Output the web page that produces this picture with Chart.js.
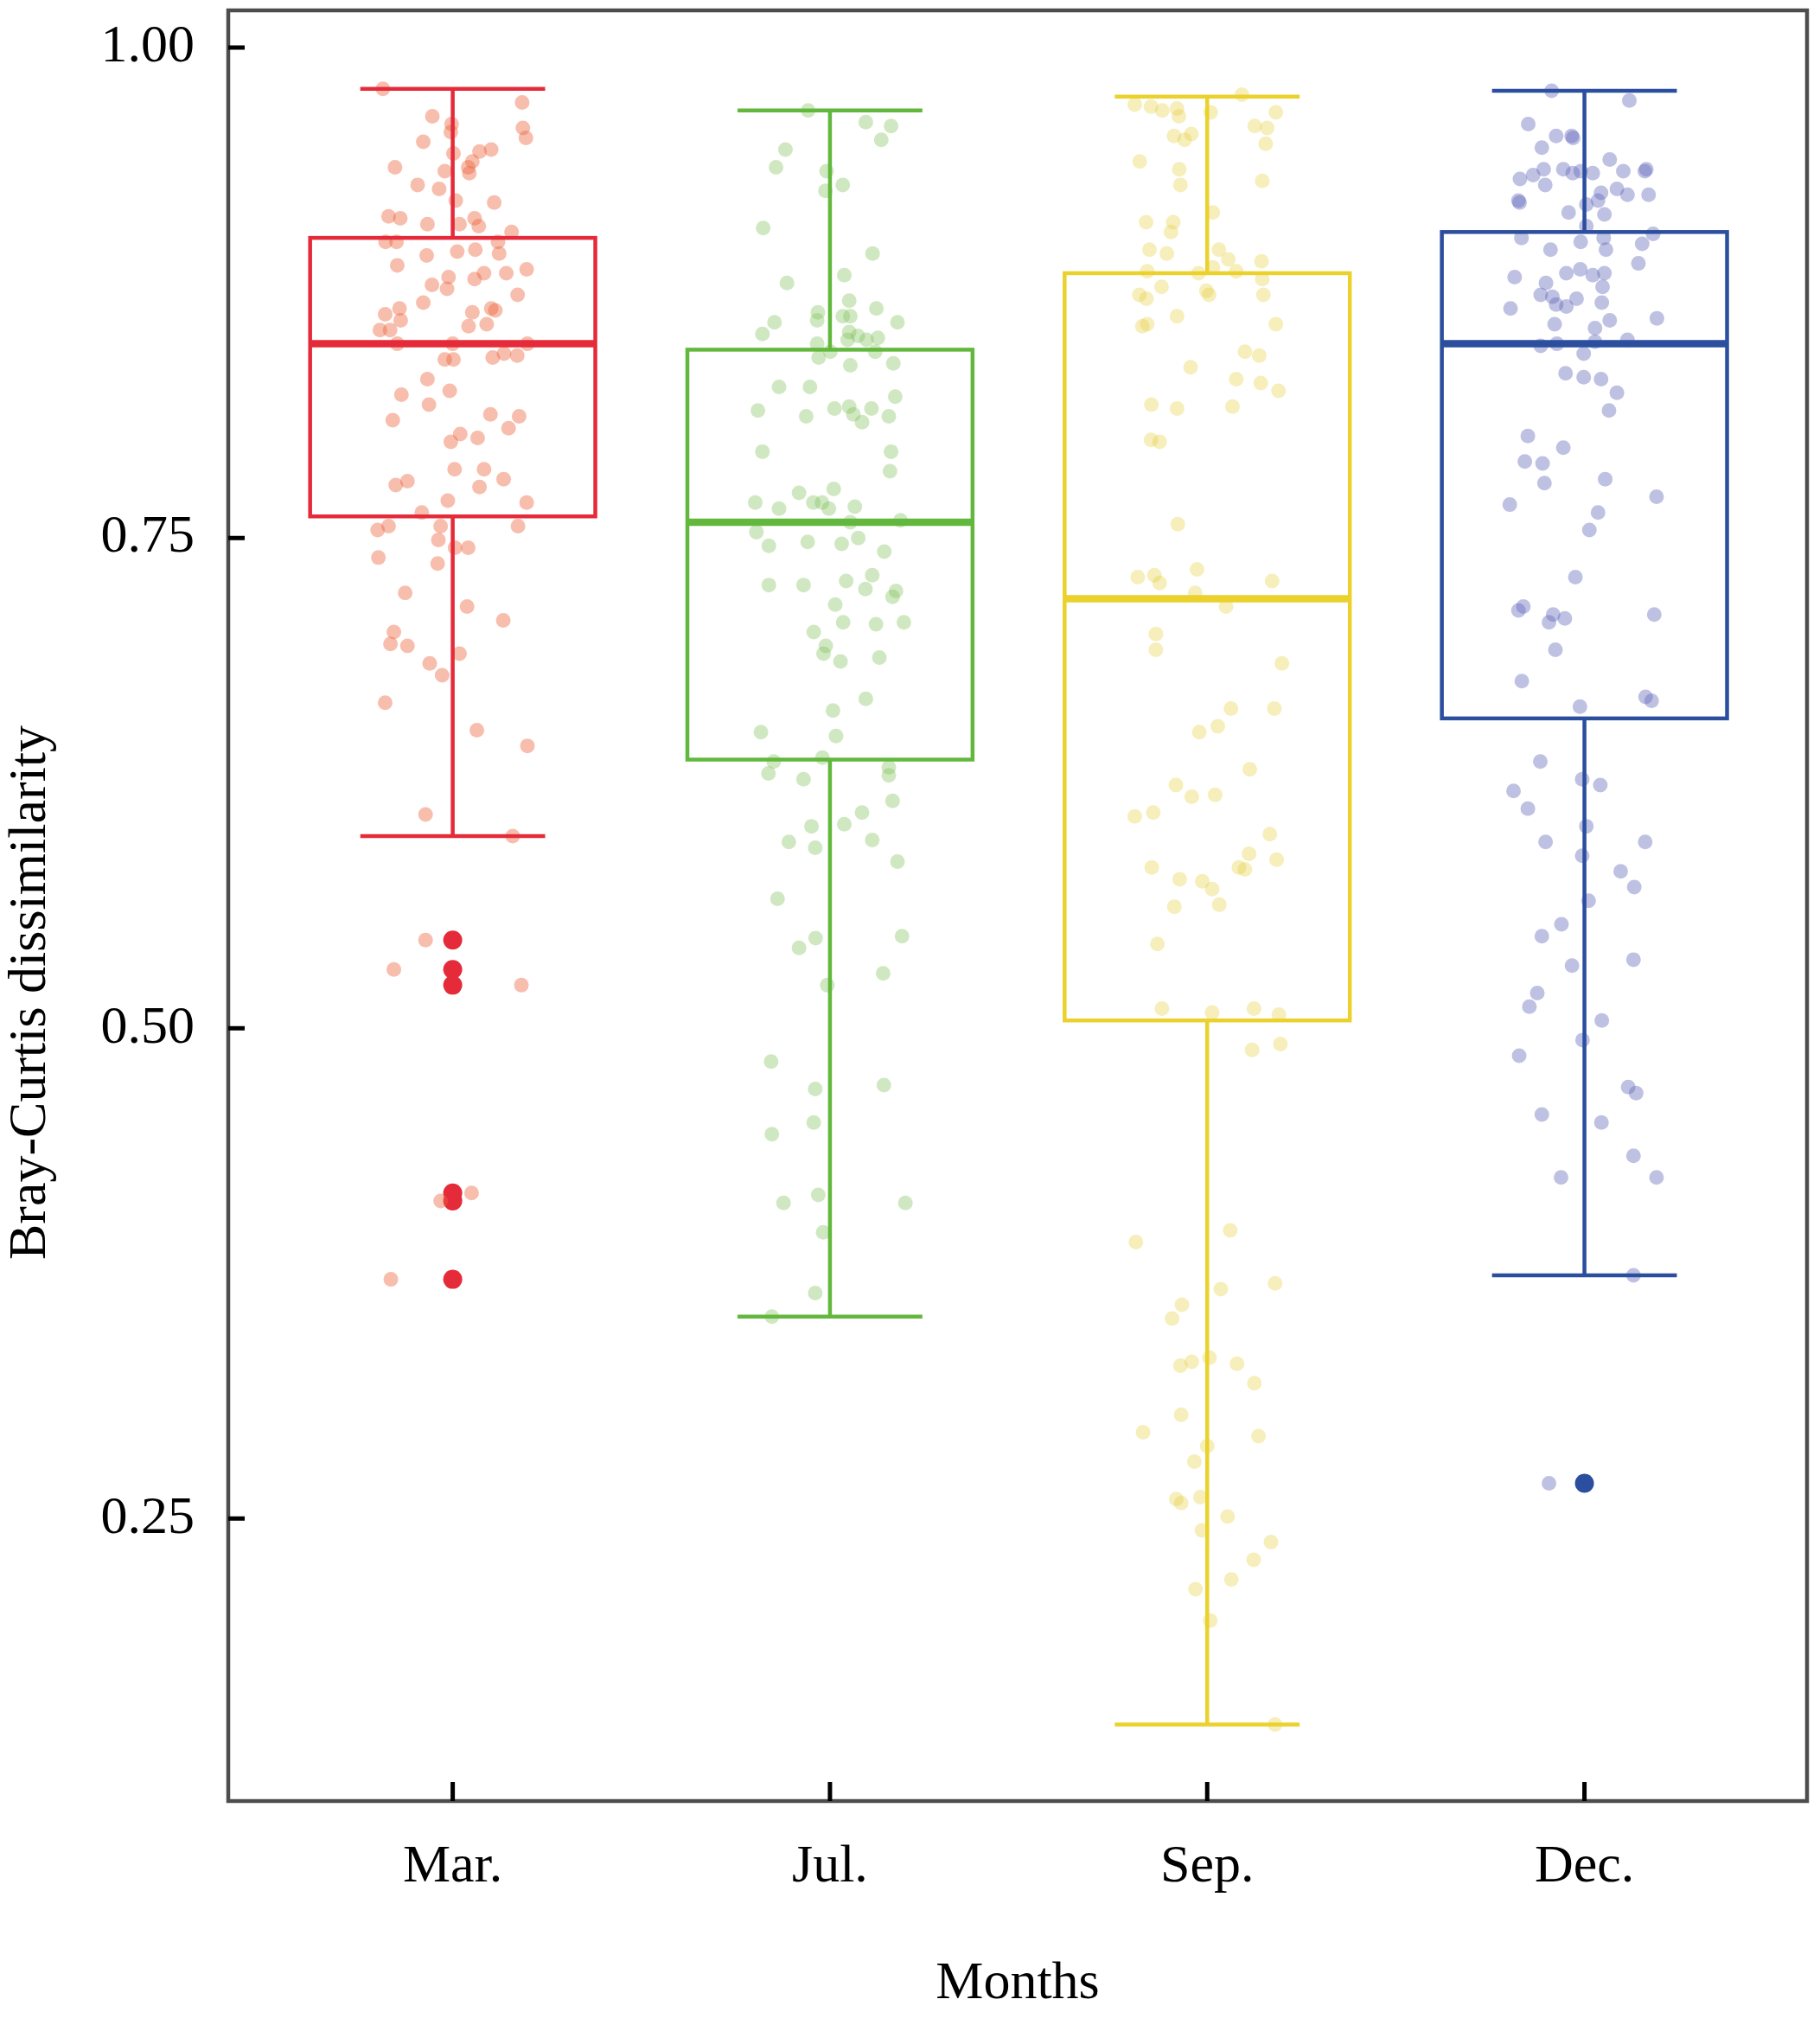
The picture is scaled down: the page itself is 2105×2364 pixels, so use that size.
<!DOCTYPE html>
<html>
<head>
<meta charset="utf-8">
<script src="https://cdn.jsdelivr.net/npm/chart.js@4.4.1/dist/chart.umd.min.js"></script>
<style>
    html, body { margin: 0; padding: 0; background: #fff; }
</style>
</head>
<body>
<canvas id="boxChart" width="2105" height="2364"></canvas>
<script>
// Categories and tick labels
const months = ['Mar.', 'Jul.', 'Sep.', 'Dec.'];
const yTicks = [0.25, 0.50, 0.75, 1.00];

// Box statistics per month
const whiskerLow = [0.598, 0.353, 0.145, 0.374];
const q1 = [0.761, 0.637, 0.504, 0.658];
const median = [0.849, 0.758, 0.719, 0.849];
const q3 = [0.903, 0.846, 0.885, 0.906];
const whiskerHigh = [0.979, 0.968, 0.975, 0.978];

// Outliers (solid dots)
const marOutliers = [0.545, 0.530, 0.522, 0.416, 0.412, 0.372];
const decOutliers = [0.268];

// Jittered samples: [x jitter, dissimilarity]
const marPoints = [
    [-0.185,0.979],[0.184,0.972],[-0.054,0.965],[-0.003,0.961],[-0.005,0.957],[0.186,0.959],[0.194,0.954],[-0.078,0.952],
    [0.002,0.946],[0.071,0.947],[0.102,0.948],[0.052,0.942],[-0.153,0.939],[-0.021,0.937],[0.044,0.936],[0.041,0.939],
    [-0.093,0.930],[-0.036,0.928],[0.008,0.922],[0.110,0.921],[-0.170,0.914],[-0.139,0.913],[-0.067,0.910],[0.018,0.910],
    [0.058,0.913],[0.069,0.909],[0.156,0.906],[-0.178,0.901],[-0.149,0.901],[0.120,0.901],[0.123,0.895],[-0.069,0.894],
    [0.012,0.896],[0.060,0.897],[-0.147,0.889],[0.196,0.887],[-0.011,0.883],[0.058,0.882],[0.083,0.885],[0.142,0.885],
    [-0.055,0.879],[-0.015,0.877],[-0.078,0.870],[0.172,0.874],[-0.179,0.864],[-0.141,0.867],[-0.138,0.861],[0.052,0.865],
    [0.102,0.867],[0.113,0.866],[0.090,0.859],[0.042,0.858],[-0.193,0.856],[-0.166,0.856],[-0.147,0.849],[0.000,0.849],
    [0.198,0.849],[-0.021,0.841],[0.002,0.841],[0.106,0.842],[0.136,0.844],[0.171,0.843],[-0.067,0.831],[-0.008,0.825],
    [-0.136,0.823],[-0.063,0.818],[-0.159,0.810],[0.100,0.813],[0.176,0.812],[0.148,0.806],[-0.005,0.799],[0.020,0.803],
    [0.066,0.801],[0.005,0.785],[0.083,0.785],[-0.151,0.777],[-0.120,0.779],[0.071,0.776],[0.135,0.780],[-0.013,0.769],
    [0.196,0.768],[-0.082,0.763],[-0.199,0.754],[-0.170,0.756],[-0.032,0.756],[0.173,0.756],[-0.038,0.749],[-0.197,0.740],
    [0.006,0.745],[0.041,0.745],[-0.040,0.737],[-0.126,0.722],[0.038,0.715],[0.134,0.708],[-0.156,0.702],[-0.165,0.696],
    [-0.120,0.695],[0.018,0.691],[-0.061,0.686],[-0.028,0.680],[-0.179,0.666],[0.064,0.652],[0.198,0.644],[-0.072,0.609],
    [0.159,0.598],[-0.072,0.545],[-0.156,0.530],[0.182,0.522],[-0.032,0.412],[0.050,0.416],[-0.164,0.372]
];
const julPoints = [
    [-0.058,0.968],[0.095,0.962],[0.162,0.960],[0.136,0.953],[-0.118,0.948],[-0.143,0.939],[-0.009,0.937],[-0.012,0.927],
    [0.034,0.930],[-0.177,0.908],[0.113,0.895],[-0.114,0.880],[0.038,0.884],[0.051,0.871],[0.123,0.867],[-0.032,0.865],
    [-0.034,0.861],[0.034,0.863],[0.054,0.863],[0.179,0.860],[-0.147,0.860],[-0.179,0.854],[0.051,0.855],[0.074,0.853],
    [0.097,0.851],[0.127,0.852],[0.047,0.851],[-0.034,0.849],[0.001,0.845],[0.120,0.845],[-0.030,0.842],[0.054,0.838],
    [0.168,0.839],[-0.135,0.827],[-0.053,0.827],[0.173,0.822],[-0.191,0.815],[-0.063,0.812],[0.012,0.816],[0.051,0.817],
    [0.062,0.813],[0.085,0.809],[0.110,0.816],[0.156,0.812],[-0.179,0.794],[0.162,0.794],[0.159,0.784],[-0.198,0.768],
    [-0.135,0.765],[-0.082,0.773],[-0.044,0.768],[-0.021,0.768],[-0.003,0.765],[0.010,0.775],[0.066,0.766],[0.187,0.759],
    [-0.195,0.753],[0.054,0.758],[-0.162,0.746],[-0.059,0.748],[0.031,0.747],[0.075,0.750],[0.144,0.743],[-0.162,0.726],
    [-0.070,0.726],[0.043,0.728],[0.094,0.724],[0.112,0.731],[0.166,0.720],[0.175,0.723],[0.014,0.716],[0.035,0.707],
    [0.122,0.706],[0.196,0.707],[-0.043,0.702],[-0.011,0.695],[-0.017,0.691],[0.028,0.687],[0.131,0.689],[0.095,0.668],
    [0.008,0.662],[-0.183,0.651],[0.016,0.649],[-0.149,0.636],[-0.163,0.630],[-0.020,0.638],[0.156,0.633],[0.156,0.629],
    [-0.070,0.627],[0.166,0.616],[-0.049,0.603],[0.038,0.604],[0.085,0.610],[-0.109,0.595],[-0.039,0.592],[0.112,0.596],
    [0.179,0.585],[-0.139,0.566],[-0.082,0.541],[-0.038,0.546],[0.191,0.547],[-0.007,0.522],[0.141,0.528],[-0.156,0.483],
    [-0.039,0.469],[0.143,0.471],[-0.043,0.452],[-0.154,0.446],[-0.123,0.411],[-0.031,0.415],[0.200,0.411],[-0.018,0.396],
    [-0.039,0.365],[-0.154,0.353]
];
const sepPoints = [
    [-0.192,0.971],[-0.149,0.970],[-0.119,0.968],[-0.080,0.969],[-0.075,0.965],[0.009,0.967],[0.092,0.976],[0.182,0.967],
    [0.126,0.960],[0.159,0.959],[0.155,0.951],[-0.088,0.955],[-0.060,0.953],[-0.042,0.956],[-0.179,0.942],[-0.074,0.938],
    [-0.071,0.930],[0.146,0.932],[0.015,0.916],[-0.162,0.911],[-0.090,0.911],[-0.096,0.906],[-0.153,0.897],[-0.107,0.895],
    [0.031,0.897],[0.056,0.892],[0.144,0.891],[-0.159,0.886],[-0.023,0.885],[0.015,0.888],[0.077,0.886],[0.146,0.882],
    [-0.121,0.878],[-0.180,0.874],[-0.161,0.872],[-0.002,0.876],[0.005,0.874],[0.149,0.874],[-0.080,0.863],[-0.172,0.858],
    [-0.159,0.859],[0.182,0.859],[0.100,0.845],[0.138,0.843],[-0.044,0.837],[0.077,0.831],[0.142,0.829],[0.189,0.825],
    [-0.148,0.818],[-0.080,0.816],[0.067,0.817],[-0.149,0.800],[-0.126,0.799],[-0.078,0.757],[-0.184,0.730],[-0.140,0.731],
    [-0.126,0.727],[-0.027,0.734],[0.172,0.728],[-0.032,0.722],[0.050,0.715],[-0.136,0.701],[-0.136,0.693],[0.198,0.686],
    [0.063,0.663],[0.178,0.663],[-0.021,0.651],[0.028,0.654],[0.113,0.632],[-0.083,0.624],[-0.041,0.618],[0.021,0.619],
    [-0.192,0.608],[-0.143,0.610],[0.166,0.599],[0.111,0.589],[0.184,0.586],[0.084,0.582],[0.100,0.581],[-0.147,0.582],
    [-0.073,0.576],[-0.013,0.575],[0.013,0.571],[-0.087,0.562],[0.032,0.563],[-0.132,0.543],[-0.120,0.510],[0.013,0.508],
    [0.124,0.510],[0.190,0.507],[0.119,0.489],[0.194,0.492],[-0.189,0.391],[0.061,0.397],[0.180,0.370],[0.036,0.367],
    [-0.067,0.359],[-0.093,0.352],[-0.071,0.328],[-0.041,0.330],[0.006,0.332],[0.079,0.329],[0.125,0.319],[-0.069,0.303],
    [-0.170,0.294],[0.136,0.292],[0.000,0.287],[-0.034,0.279],[-0.082,0.260],[-0.069,0.258],[-0.018,0.261],[0.054,0.251],
    [-0.014,0.244],[0.169,0.238],[0.123,0.229],[0.064,0.219],[-0.031,0.214],[0.008,0.198],[0.180,0.145]
];
const decPoints = [
    [-0.087,0.978],[0.119,0.973],[-0.149,0.961],[-0.075,0.955],[-0.034,0.955],[-0.030,0.954],[-0.113,0.949],[0.067,0.943],
    [-0.171,0.933],[-0.136,0.935],[-0.108,0.938],[-0.104,0.930],[-0.056,0.938],[-0.031,0.936],[-0.010,0.937],[0.022,0.936],
    [0.103,0.937],[0.164,0.938],[0.160,0.937],[-0.175,0.922],[-0.172,0.921],[0.044,0.926],[0.086,0.928],[0.114,0.925],
    [0.170,0.925],[0.005,0.920],[0.036,0.922],[-0.042,0.916],[0.053,0.915],[0.005,0.909],[-0.167,0.903],[0.051,0.903],
    [0.182,0.905],[-0.090,0.897],[-0.010,0.901],[0.057,0.897],[0.153,0.900],[0.143,0.890],[-0.185,0.883],[-0.048,0.885],
    [-0.011,0.887],[0.022,0.884],[0.053,0.885],[-0.102,0.880],[0.048,0.878],[-0.116,0.874],[-0.085,0.873],[-0.075,0.869],
    [-0.048,0.868],[-0.021,0.872],[0.046,0.870],[-0.196,0.867],[-0.079,0.859],[0.028,0.857],[0.067,0.861],[0.192,0.862],
    [-0.116,0.848],[-0.073,0.849],[0.028,0.850],[0.114,0.851],[-0.002,0.844],[-0.050,0.834],[-0.002,0.832],[0.044,0.831],
    [0.086,0.824],[0.065,0.815],[-0.150,0.802],[-0.056,0.796],[-0.158,0.789],[-0.111,0.788],[-0.106,0.778],[0.055,0.780],
    [-0.198,0.767],[0.191,0.771],[0.036,0.763],[0.013,0.754],[-0.024,0.730],[-0.175,0.713],[-0.162,0.715],[-0.094,0.707],
    [-0.083,0.711],[-0.052,0.709],[0.185,0.711],[-0.077,0.693],[-0.166,0.677],[-0.012,0.664],[0.162,0.669],[0.178,0.667],
    [-0.117,0.636],[-0.188,0.621],[-0.150,0.612],[-0.006,0.627],[0.042,0.624],[0.005,0.603],[-0.103,0.595],[0.161,0.595],
    [-0.006,0.588],[0.096,0.580],[0.132,0.572],[0.011,0.565],[-0.061,0.553],[-0.113,0.547],[-0.033,0.532],[0.130,0.535],
    [-0.125,0.518],[-0.146,0.511],[0.046,0.504],[-0.005,0.494],[-0.173,0.486],[0.116,0.470],[0.137,0.467],[-0.113,0.456],
    [0.045,0.452],[0.130,0.435],[-0.062,0.424],[0.191,0.424],[0.130,0.374],[-0.094,0.268]
];

const boxColors = ['#e52b3a', '#62b83c', '#ebd12b', '#2b4e9e'];
const dotColors = ['rgba(235,100,60,0.42)', 'rgba(120,190,80,0.35)', 'rgba(230,205,60,0.35)', 'rgba(95,100,185,0.4)'];
const FONT = '"Liberation Serif", "Times New Roman", serif';

const jitterSets = [marPoints, julPoints, sepPoints, decPoints];

const datasets = jitterSets.map((pts, i) => ({
    label: months[i],
    data: pts.map(p => ({ x: i + p[0], y: p[1] })),
    pointRadius: 8.5,
    pointBackgroundColor: dotColors[i],
    pointBorderWidth: 0,
    showLine: false
}));
datasets.push({
    label: 'Mar. outliers',
    data: marOutliers.map(v => ({ x: 0, y: v })),
    pointRadius: 11,
    pointBackgroundColor: boxColors[0],
    pointBorderWidth: 0
});
datasets.push({
    label: 'Dec. outliers',
    data: decOutliers.map(v => ({ x: 3, y: v })),
    pointRadius: 11,
    pointBackgroundColor: boxColors[3],
    pointBorderWidth: 0
});

// Draws boxes, whiskers, frame, inner ticks and the y title
const boxPlotPlugin = {
    id: 'boxPlot',
    afterDatasetsDraw(chart) {
        const { ctx, scales: { x, y } } = chart;
        const boxHalf = 0.378;
        const capHalf = 0.245;
        ctx.save();
        months.forEach((m, i) => {
            const left = x.getPixelForValue(i - boxHalf);
            const right = x.getPixelForValue(i + boxHalf);
            const cx = x.getPixelForValue(i);
            const capL = x.getPixelForValue(i - capHalf);
            const capR = x.getPixelForValue(i + capHalf);
            const yq1 = y.getPixelForValue(q1[i]);
            const yq3 = y.getPixelForValue(q3[i]);
            const ymed = y.getPixelForValue(median[i]);
            const ylo = y.getPixelForValue(whiskerLow[i]);
            const yhi = y.getPixelForValue(whiskerHigh[i]);
            ctx.strokeStyle = boxColors[i];
            ctx.lineCap = 'butt';
            ctx.lineWidth = 4.5;
            ctx.beginPath();
            ctx.moveTo(cx, yq3); ctx.lineTo(cx, yhi);
            ctx.moveTo(capL, yhi); ctx.lineTo(capR, yhi);
            ctx.moveTo(cx, yq1); ctx.lineTo(cx, ylo);
            ctx.moveTo(capL, ylo); ctx.lineTo(capR, ylo);
            ctx.stroke();
            ctx.strokeRect(left, yq3, right - left, yq1 - yq3);
            ctx.lineWidth = 8.5;
            ctx.beginPath();
            ctx.moveTo(left, ymed); ctx.lineTo(right, ymed);
            ctx.stroke();
        });
        ctx.restore();
    },
    afterDraw(chart) {
        const { ctx, chartArea: a, scales: { x, y } } = chart;
        ctx.save();
        // frame
        ctx.strokeStyle = '#4d4d4d';
        ctx.lineWidth = 4.5;
        ctx.strokeRect(a.left, a.top, a.right - a.left, a.bottom - a.top);
        // inner ticks
        ctx.strokeStyle = '#000';
        ctx.lineWidth = 5;
        ctx.beginPath();
        yTicks.forEach(v => {
            const py = y.getPixelForValue(v);
            ctx.moveTo(a.left, py); ctx.lineTo(a.left + 19, py);
        });
        months.forEach((m, i) => {
            const px = x.getPixelForValue(i);
            ctx.moveTo(px, a.bottom); ctx.lineTo(px, a.bottom - 22);
        });
        ctx.stroke();
        // y axis title
        ctx.fillStyle = '#000';
        ctx.font = '62px ' + FONT;
        ctx.textAlign = 'center';
        ctx.textBaseline = 'middle';
        ctx.translate(36, 1148);
        ctx.rotate(-Math.PI / 2);
        ctx.fillText('Bray-Curtis dissimilarity', 0, 0);
        ctx.restore();
    }
};

new Chart(document.getElementById('boxChart'), {
    type: 'scatter',
    data: { datasets },
    options: {
        responsive: false,
        devicePixelRatio: 1,
        animation: false,
        layout: { padding: { top: 12, right: 15, left: 0, bottom: 0 } },
        plugins: {
            legend: { display: false },
            tooltip: { enabled: false }
        },
        scales: {
            x: {
                type: 'linear',
                min: -0.595,
                max: 3.59,
                afterBuildTicks: s => { s.ticks = months.map((m, i) => ({ value: i })); },
                afterFit: s => { s.height = 281; s.paddingLeft = 0; s.paddingRight = 0; },
                ticks: {
                    callback: v => months[v],
                    font: { family: FONT, size: 62 },
                    color: '#000',
                    padding: 40,
                    maxRotation: 0,
                    autoSkip: false
                },
                grid: { display: false, drawTicks: false },
                border: { display: false },
                title: {
                    display: true,
                    text: 'Months',
                    color: '#000',
                    font: { family: FONT, size: 62 },
                    padding: { top: 0, bottom: 32 }
                }
            },
            y: {
                type: 'linear',
                min: 0.106,
                max: 1.019,
                afterBuildTicks: s => { s.ticks = yTicks.map(v => ({ value: v })); },
                afterFit: s => { s.width = 264; s.paddingTop = 0; s.paddingBottom = 0; },
                ticks: {
                    callback: v => v.toFixed(2),
                    font: { family: FONT, size: 62 },
                    color: '#000',
                    padding: 39
                },
                grid: { display: false, drawTicks: false },
                border: { display: false }
            }
        }
    },
    plugins: [boxPlotPlugin]
});
</script>
</body>
</html>
